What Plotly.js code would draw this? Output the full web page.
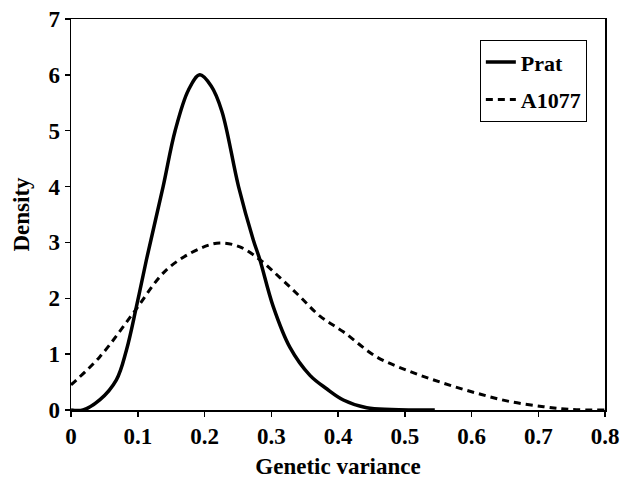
<!DOCTYPE html>
<html>
<head>
<meta charset="utf-8">
<script src="https://cdn.plot.ly/plotly-3.0.1.min.js"></script>
<style>html,body{margin:0;padding:0;background:#fff;}#chart{width:623px;height:482px;}
#chart svg text{font-family:'Liberation Serif','Times New Roman',serif !important;font-weight:bold !important;}</style>
</head>
<body>
<div id="chart"></div>
<script>
// Prat curve (genetic variance vs density)
const pratX = [0.0, 0.018, 0.043, 0.068, 0.083, 0.098, 0.113, 0.138, 0.156, 0.176, 0.193, 0.210, 0.226, 0.251, 0.273, 0.283, 0.303, 0.328, 0.358, 0.383, 0.408, 0.443, 0.48, 0.545];
const pratY = [0.0, 0.0, 0.18, 0.54, 1.07, 1.85, 2.69, 4.0, 5.0, 5.73, 6.0, 5.8, 5.35, 4.0, 3.05, 2.69, 1.85, 1.12, 0.62, 0.38, 0.18, 0.04, 0.01, 0.0];
// A1077 curve
const a1077X = [0.0, 0.043, 0.093, 0.143, 0.193, 0.223, 0.253, 0.283, 0.313, 0.343, 0.373, 0.408, 0.458, 0.508, 0.558, 0.608, 0.658, 0.708, 0.748, 0.8];
const a1077Y = [0.45, 0.95, 1.73, 2.51, 2.89, 2.99, 2.92, 2.69, 2.37, 2.03, 1.68, 1.40, 0.95, 0.69, 0.48, 0.30, 0.15, 0.06, 0.01, 0.0];
const xTicks = [0, 0.1, 0.2, 0.3, 0.4, 0.5, 0.6, 0.7, 0.8];
const xTickText = ['0', '0.1', '0.2', '0.3', '0.4', '0.5', '0.6', '0.7', '0.8'];
const yTicks = [0, 1, 2, 3, 4, 5, 6, 7];

const fam = 'Liberation Serif';
function f(size) { return {family: fam, size: size, color: '#000', weight: 'bold'}; }

const traces = [
  {x: pratX, y: pratY, name: 'Prat', legendgroup: 'a', mode: 'lines', line: {color: '#000', width: 3.5, shape: 'spline', smoothing: 1}},
  {x: a1077X, y: a1077Y, name: 'A1077', legendgroup: 'b', mode: 'lines', line: {color: '#000', width: 3, dash: '7px,5px', shape: 'spline', smoothing: 1}}
];

const layout = {
  width: 623, height: 482,
  margin: {l: 71, r: 18, t: 19, b: 72},
  paper_bgcolor: '#fff', plot_bgcolor: '#fff',
  font: f(23),
  showlegend: true,
  legend: {
    x: 0.966, y: 0.946, xanchor: 'right', yanchor: 'top',
    bordercolor: '#000', borderwidth: 1, bgcolor: '#fff',
    font: f(22),
    traceorder: 'grouped',
    tracegroupgap: 6
  },
  xaxis: {
    range: [0, 0.8], tickvals: xTicks, ticktext: xTickText,
    showgrid: false, zeroline: false,
    showline: true, linecolor: '#000', linewidth: 1.5, mirror: true,
    ticks: 'outside', ticklen: 5, tickwidth: 1.5, tickcolor: '#000',
    tickfont: f(23),
    title: {text: 'Genetic variance', font: f(23), standoff: 10}
  },
  yaxis: {
    range: [0, 7], tickvals: yTicks,
    showgrid: false, zeroline: false,
    showline: true, linecolor: '#000', linewidth: 1.5, mirror: true,
    ticks: 'outside', ticklen: 5, tickwidth: 1.5, tickcolor: '#000',
    tickfont: f(23),
    title: {text: 'Density', font: f(23), standoff: 12}
  }
};

Plotly.newPlot('chart', traces, layout, {displayModeBar: false, staticPlot: true});
</script>
</body>
</html>
